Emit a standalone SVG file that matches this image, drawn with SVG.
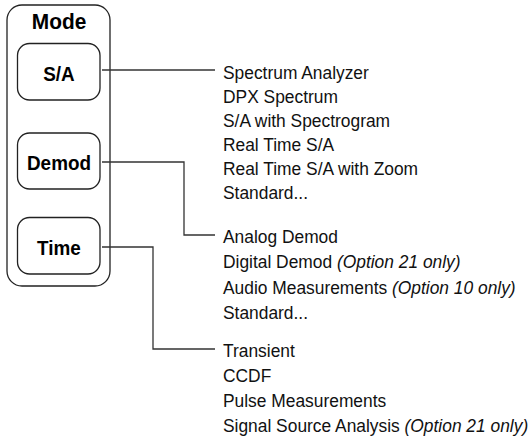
<svg xmlns="http://www.w3.org/2000/svg" width="531" height="437" viewBox="0 0 531 437">
<style>
.frame{fill:#fff;stroke:#222;stroke-width:1.3}
.btn{fill:#fff;stroke:#222;stroke-width:1.3}
.lbl{font-family:"Liberation Sans",Arial,sans-serif;font-weight:bold;fill:#000;text-anchor:middle}
.item{font-family:"Liberation Sans",Arial,sans-serif;font-size:18.5px;fill:#111}
.opt{font-style:italic}
.conn{fill:none;stroke:#333;stroke-width:1.3}
</style>
<rect width="531" height="437" fill="#fff"/>
<g id="mode-panel">
<rect class="frame" x="7" y="5" width="103" height="281" rx="15"/>
<text class="lbl" transform="translate(59,29) scale(0.95,1)" font-size="22">Mode</text>
</g>
<g id="btn-sa">
<rect class="btn" x="17.5" y="43.5" width="82.5" height="56.5" rx="12"/>
<text class="lbl" transform="translate(59,81) scale(0.9,1)" font-size="21">S/A</text>
</g>
<g id="btn-demod">
<rect class="btn" x="17.5" y="133" width="82.5" height="56" rx="12"/>
<text class="lbl" transform="translate(59,169.5) scale(0.9,1)" font-size="21">Demod</text>
</g>
<g id="btn-time">
<rect class="btn" x="17.5" y="217.5" width="82.5" height="56.5" rx="12"/>
<text class="lbl" transform="translate(59,255) scale(0.9,1)" font-size="21">Time</text>
</g>
<g id="connectors">
<path class="conn" d="M102 70H215"/>
<path class="conn" d="M102 162H184V235H215"/>
<path class="conn" d="M102 247H153V349H215"/>
</g>
<g id="sa-list" transform="translate(223,0) scale(0.94,1)">
<text class="item" x="0" y="79">Spectrum Analyzer</text>
<text class="item" x="0" y="103">DPX Spectrum</text>
<text class="item" x="0" y="127">S/A with Spectrogram</text>
<text class="item" x="0" y="151">Real Time S/A</text>
<text class="item" x="0" y="175">Real Time S/A with Zoom</text>
<text class="item" x="0" y="199">Standard...</text>
</g>
<g id="demod-list" transform="translate(223,0) scale(0.94,1)">
<text class="item" x="0" y="243">Analog Demod</text>
<text class="item" x="0" y="268.5">Digital Demod <tspan class="opt">(Option 21 only)</tspan></text>
<text class="item" x="0" y="294">Audio Measurements <tspan class="opt">(Option 10 only)</tspan></text>
<text class="item" x="0" y="319.5">Standard...</text>
</g>
<g id="time-list" transform="translate(223,0) scale(0.94,1)">
<text class="item" x="0" y="357">Transient</text>
<text class="item" x="0" y="382">CCDF</text>
<text class="item" x="0" y="407">Pulse Measurements</text>
<text class="item" x="0" y="432">Signal Source Analysis <tspan class="opt">(Option 21 only)</tspan></text>
</g>
</svg>
